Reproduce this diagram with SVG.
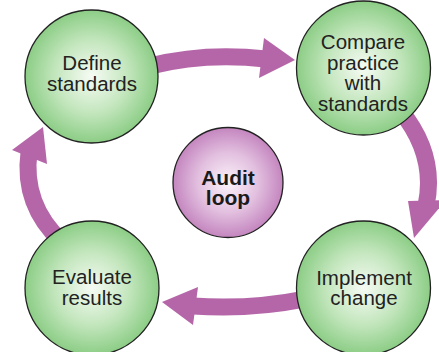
<svg xmlns="http://www.w3.org/2000/svg" width="439" height="352" viewBox="0 0 439 352">
<defs>
<radialGradient id="gGreen" cx="50%" cy="50%" r="50%">
<stop offset="0" stop-color="#f6fbf4"/>
<stop offset="0.55" stop-color="#c3e6bd"/>
<stop offset="1" stop-color="#8ccd86"/>
</radialGradient>
<radialGradient id="gPurple" cx="50%" cy="50%" r="50%">
<stop offset="0" stop-color="#fbf3fa"/>
<stop offset="0.55" stop-color="#e2bfdf"/>
<stop offset="1" stop-color="#c486bf"/>
</radialGradient>
<style>
.band{fill:none;stroke:#b566a8;stroke-width:17;stroke-linecap:butt}
.head{fill:#b566a8}
.node{fill:url(#gGreen);stroke:#222;stroke-width:1.3}
.hub{fill:url(#gPurple);stroke:#222;stroke-width:1.3}
.lbl{font-family:"Liberation Sans",Arial,Helvetica,sans-serif;font-size:20.5px;fill:#222;text-anchor:middle}
.hubl{font-family:"Liberation Sans",Arial,Helvetica,sans-serif;font-size:21px;font-weight:bold;fill:#1a1a1a;text-anchor:middle}
</style>
</defs>
<rect width="439" height="352" fill="#ffffff"/>
<g id="connectors">
<path class="band" d="M 150 66 Q 205 52 266 59"/>
<polygon class="head" points="264,38 295,60 259,78"/>
<path class="band" d="M 400 110 Q 437 155 426 206"/>
<polygon class="head" points="408,201 446,200 414,238"/>
<path class="band" d="M 305 299 Q 250 310 193 306"/>
<polygon class="head" points="198,287 162,302 193,325"/>
<path class="band" d="M 62 242 Q 22 205 29 152"/>
<polygon class="head" points="12,150 43,127 47,164"/>
</g>
<g id="define">
<circle class="node" cx="91.5" cy="76.5" r="66.5"/>
<text class="lbl" x="92" y="70">Define</text>
<text class="lbl" x="92" y="91">standards</text>
</g>
<g id="compare">
<circle class="node" cx="363.5" cy="68" r="67"/>
<text class="lbl" x="363" y="49">Compare</text>
<text class="lbl" x="363" y="70">practice</text>
<text class="lbl" x="363" y="90">with</text>
<text class="lbl" x="363" y="111">standards</text>
</g>
<g id="implement">
<circle class="node" cx="363.5" cy="288" r="67"/>
<text class="lbl" x="364" y="285">Implement</text>
<text class="lbl" x="364" y="305">change</text>
</g>
<g id="evaluate">
<circle class="node" cx="92" cy="288" r="67"/>
<text class="lbl" x="92" y="284">Evaluate</text>
<text class="lbl" x="92" y="305">results</text>
</g>
<g id="audit">
<circle class="hub" cx="228" cy="182.5" r="55"/>
<text class="hubl" x="228" y="185">Audit</text>
<text class="hubl" x="228" y="205">loop</text>
</g>
</svg>
